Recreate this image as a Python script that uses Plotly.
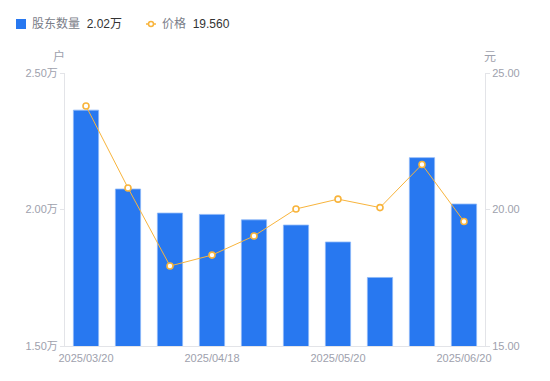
import plotly.graph_objects as go

dates = ["2025/03/20", "2025/03/31", "2025/04/10", "2025/04/18", "2025/04/30",
         "2025/05/09", "2025/05/20", "2025/05/31", "2025/06/10", "2025/06/20"]
holders = [23640, 20750, 19870, 19820, 19620, 19430, 18810, 17510, 21900, 20200]
prices = [23.79, 20.79, 17.93, 18.33, 19.03, 20.02, 20.38, 20.07, 21.65, 19.56]

x_tickvals = ["2025/03/20", "2025/04/18", "2025/05/20", "2025/06/20"]
y1_tickvals = [15000, 20000, 25000]
y1_ticktext = ["1.50万", "2.00万", "2.50万"]
y2_tickvals = [15, 20, 25]
y2_ticktext = ["15.00", "20.00", "25.00"]

BLUE = "#2878F0"
ORANGE = "#F8B43C"
GRAY = "#9EA1AD"
AXIS = "#E3E4E8"
FONT = "Liberation Sans, Noto Sans CJK SC, sans-serif"

# page body has an 8px margin; compensate so the plot lands at reference pixels
OFF = 8

fig = go.Figure()
fig.add_trace(go.Bar(
    x=dates, y=holders, marker=dict(color=BLUE, line=dict(color="#8DB8F8", width=0.8)),
    name="股东数量", yaxis="y", showlegend=False, hoverinfo="skip"))
fig.add_trace(go.Scatter(
    x=dates, y=prices, mode="lines+markers", yaxis="y2", name="价格",
    line=dict(color=ORANGE, width=1),
    marker=dict(symbol="circle", size=6, color="white", line=dict(color=ORANGE, width=1.6)),
    showlegend=False, hoverinfo="skip"))

fig.update_layout(
    width=550, height=381,
    margin=dict(l=65 - OFF, r=65 + OFF, t=73 - OFF, b=35 + OFF),
    paper_bgcolor="white", plot_bgcolor="white",
    font=dict(family=FONT, size=11, color=GRAY),
    bargap=0.4,
    xaxis=dict(type="category", range=[-0.5, 9.5], tickmode="array", tickvals=x_tickvals,
               ticktext=x_tickvals, showgrid=False, showline=True, linecolor=AXIS, linewidth=1,
               ticks="outside", ticklen=2, tickcolor="rgba(0,0,0,0)",
               tickfont=dict(size=11, color=GRAY), zeroline=False),
    yaxis=dict(range=[15000, 25000], tickvals=y1_tickvals, ticktext=y1_ticktext,
               showgrid=False, showline=True, linecolor=AXIS, linewidth=1,
               ticks="outside", ticklen=4, tickcolor=AXIS, tickfont=dict(size=11, color=GRAY),
               zeroline=False),
    yaxis2=dict(range=[15, 25], tickvals=y2_tickvals, ticktext=y2_ticktext, overlaying="y",
                side="right", showgrid=False, showline=True, linecolor=AXIS, linewidth=1,
                ticks="outside", ticklen=4, tickcolor=AXIS, tickfont=dict(size=11, color=GRAY),
                zeroline=False),
)

# axis unit titles
fig.add_annotation(x=0, y=1, xref="paper", yref="paper", text="户", showarrow=False,
                   xanchor="center", yanchor="bottom", xshift=-6, yshift=7,
                   font=dict(size=12, color=GRAY, family=FONT))
fig.add_annotation(x=1, y=1, xref="paper", yref="paper", text="元", showarrow=False,
                   xanchor="center", yanchor="bottom", xshift=5, yshift=7,
                   font=dict(size=12, color=GRAY, family=FONT))

# legend (drawn manually)
fig.add_shape(type="rect", xref="paper", yref="paper",
              x0=-49 / 420, x1=-39 / 420, y0=1 + (73 - 29) / 273, y1=1 + (73 - 19) / 273,
              fillcolor=BLUE, line=dict(width=0))
fig.add_annotation(x=-35 / 420, y=1 + (73 - 24) / 273, xref="paper", yref="paper",
                   text="股东数量 <span style='color:#333'>&nbsp;%.2f万</span>" % (holders[-1] / 10000),
                   showarrow=False, xanchor="left", yanchor="middle",
                   font=dict(size=12, color="#7a7d88", family=FONT))
fig.add_shape(type="line", xref="paper", yref="paper",
              x0=81 / 420, x1=91 / 420, y0=1 + (73 - 24) / 273, y1=1 + (73 - 24) / 273,
              line=dict(color=ORANGE, width=1.5))
fig.add_shape(type="circle", xref="paper", yref="paper",
              x0=83.5 / 420, x1=88.5 / 420, y0=1 + (73 - 26.5) / 273, y1=1 + (73 - 21.5) / 273,
              fillcolor="white", line=dict(color=ORANGE, width=1.5))
fig.add_annotation(x=95 / 420, y=1 + (73 - 24) / 273, xref="paper", yref="paper",
                   text="价格 <span style='color:#333'>&nbsp;%.3f</span>" % prices[-1],
                   showarrow=False, xanchor="left", yanchor="middle",
                   font=dict(size=12, color="#7a7d88", family=FONT))

fig.write_html("out.html")
